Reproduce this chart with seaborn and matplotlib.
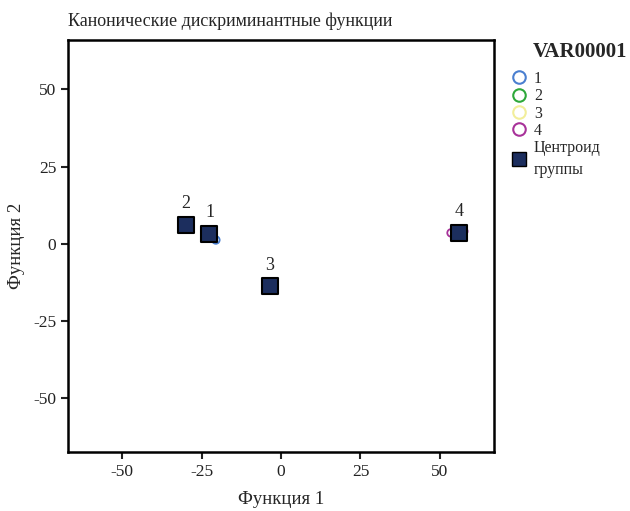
import matplotlib
matplotlib.use("Agg")
import matplotlib.pyplot as plt
import seaborn as sns
import pandas as pd
from matplotlib.lines import Line2D

sns.set_theme(style="white")
plt.rcParams['font.family'] = ['Liberation Serif', 'DejaVu Serif']
plt.rcParams['axes.unicode_minus'] = False

# individual cases
grp = ["1", "1", "2", "2", "3", "3", "4", "4"]
f1 = [-20.5, -22.0, -30.5, -29.5, -3.0, -3.8, 53.5, 57.5]
f2 = [1.2, 3.5, 6.5, 5.5, -15.0, -13.0, 3.5, 4.0]

# group centroids
cent_lab = ["1", "2", "3", "4"]
cent_x = [-22.5, -30.0, -3.5, 56.0]
cent_y = [3.2, 6.2, -13.8, 3.6]

palette = {"1": "#4a7fd0", "2": "#2ea83a", "3": "#f2ee9a", "4": "#a8329a"}

df = pd.DataFrame({"f1": f1, "f2": f2, "g": grp})
cdf = pd.DataFrame({"x": cent_x, "y": cent_y, "lab": cent_lab})

fig = plt.figure(figsize=(6.3, 5.11), dpi=100)
ax = fig.add_axes([68/630, 1-452/511, (494-68)/630, (452-40)/511])

sns.scatterplot(data=df, x="f1", y="f2", hue="g", palette=palette, s=30,
                linewidth=1.3, ax=ax, legend=False, marker="o")
for coll in ax.collections:
    ec = coll.get_facecolors()
    coll.set_edgecolors(ec)
    coll.set_facecolor("none")

sns.scatterplot(data=cdf, x="x", y="y", marker="s", s=120, color="#1c2e5e",
                edgecolor="black", linewidth=1.5, ax=ax, legend=False, zorder=5)
for x, y, t in zip(cent_x, cent_y, cent_lab):
    ax.annotate(t, (x, y), xytext=(0, 9), textcoords="offset points",
                ha="center", va="bottom", fontsize=13)

ax.set_xlim(-67, 67)
ax.set_ylim(-67.5, 66)
ax.set_xticks([-50, -25, 0, 25, 50])
ax.set_yticks([-50, -25, 0, 25, 50])
ax.tick_params(axis="both", direction="out", length=5, width=1.5, labelsize=12.5,
               left=True, bottom=True, colors="#222222")
for s in ax.spines.values():
    s.set_linewidth(1.8)
    s.set_color("black")
ax.set_xlabel("Функция 1", fontsize=13.5, labelpad=8)
ax.set_ylabel("Функция 2", fontsize=13.5, labelpad=6)
ax.set_title("Канонические дискриминантные функции", fontsize=13, pad=10,
             x=(230-68)/(494-68))

handles = [Line2D([], [], marker="o", linestyle="none", markerfacecolor="none",
                  markeredgecolor=palette[k], markeredgewidth=1.5, markersize=9,
                  label=k) for k in ["1", "2", "3", "4"]]
handles.append(Line2D([], [], marker="s", linestyle="none", markerfacecolor="#1c2e5e",
                      markeredgecolor="black", markersize=10, label="Центроид\nгруппы"))
leg = ax.legend(handles=handles, loc="upper left",
                bbox_to_anchor=((509-68)/(494-68), (452-71)/412),
                frameon=False, fontsize=11.5,
                handletextpad=0.25, labelspacing=0.08, borderaxespad=0,
                handlelength=1.3, borderpad=0)
leg.get_texts()[-1].set_linespacing(1.45)
fig.text(533/630, 1-52/511, "VAR00001", fontsize=15, fontweight="bold",
         ha="left", va="center")

fig.savefig("out.png", dpi=100)
